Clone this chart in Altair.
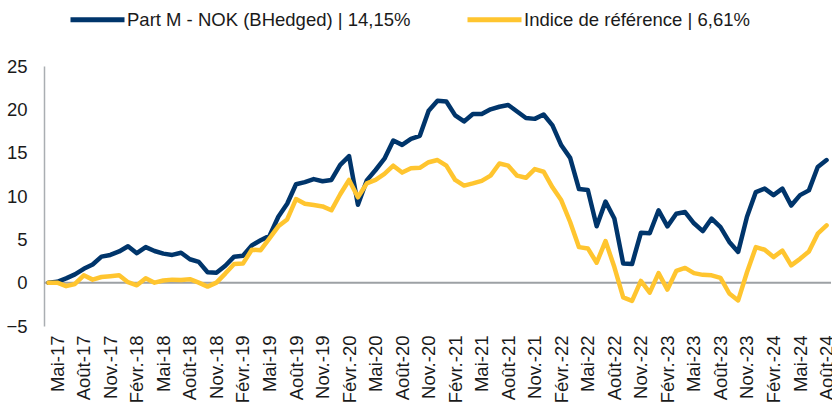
import altair as alt
import pandas as pd

# Monthly index positions: Apr-17 (inception) ... Aug-24
fund_name = "Part M - NOK (BHedged) | 14,15%"
bench_name = "Indice de référence | 6,61%"

fund = [0, 0.1, 0.5, 0.95, 1.6, 2.1, 3.0, 3.2, 3.6, 4.2, 3.4, 4.1, 3.65, 3.35, 3.2,
        3.45, 2.7, 2.4, 1.2, 1.15, 1.95, 3.0, 3.1, 4.3, 4.9, 5.4, 7.6, 9.1, 11.35, 11.6,
        11.95, 11.7, 11.85, 13.6, 14.6, 9.0, 11.8, 13.0, 14.3, 16.4, 15.9, 16.6, 16.95, 19.85, 21.0,
        20.9, 19.3, 18.6, 19.45, 19.45, 20.0, 20.3, 20.5, 19.75, 19.0, 18.9, 19.4, 18.15, 15.85, 14.4,
        10.8, 10.7, 6.5, 9.35, 7.4, 2.2, 2.15, 5.75, 5.7, 8.35, 6.5, 7.95, 8.15, 6.85, 5.95,
        7.4, 6.4, 4.7, 3.55, 7.6, 10.45, 10.85, 10.1, 10.85, 8.9, 10.1, 10.65, 13.35, 14.15]

bench = [0, 0, -0.4, -0.15, 0.85, 0.35, 0.65, 0.75, 0.85, 0.05, -0.3, 0.5, 0.0, 0.25, 0.35,
         0.3, 0.4, 0.0, -0.45, 0.0, 1.05, 2.15, 2.2, 3.8, 3.75, 5.1, 6.5, 7.3, 9.65, 9.1,
         8.95, 8.8, 8.35, 10.2, 11.85, 9.85, 11.45, 11.85, 12.55, 13.5, 12.7, 13.2, 13.25, 13.9, 14.15,
         13.5, 11.85, 11.2, 11.45, 11.75, 12.35, 13.75, 13.5, 12.35, 12.1, 13.1, 12.8, 11.0, 9.5, 7.0,
         4.1, 3.95, 2.3, 4.8, 1.8, -1.7, -2.1, 0.2, -1.15, 1.1, -0.8, 1.35, 1.7, 1.1, 0.9,
         0.85, 0.55, -1.25, -2.05, 1.2, 4.1, 3.8, 2.95, 3.7, 2.0, 2.75, 3.6, 5.65, 6.61]

tick_labels = ["Mai-17", "Août-17", "Nov.-17", "Févr.-18", "Mai-18", "Août-18", "Nov.-18",
               "Févr.-19", "Mai-19", "Août-19", "Nov.-19", "Févr.-20", "Mai-20", "Août-20",
               "Nov.-20", "Févr.-21", "Mai-21", "Août-21", "Nov.-21", "Févr.-22", "Mai-22",
               "Août-22", "Nov.-22", "Févr.-23", "Mai-23", "Août-23", "Nov.-23", "Févr.-24",
               "Mai-24", "Août-24"]
tick_positions = [1 + 3 * k for k in range(len(tick_labels))]

rows = []
for i, v in enumerate(fund):
    rows.append({"idx": i, "value": v, "series": fund_name})
for i, v in enumerate(bench):
    rows.append({"idx": i, "value": v, "series": bench_name})
df = pd.DataFrame(rows)

label_map = "{" + ",".join(f"'{p}':'{l}'" for p, l in zip(tick_positions, tick_labels)) + "}"

FONT = "Liberation Sans"

x = alt.X("idx:Q",
          scale=alt.Scale(domain=[-0.5, 88.5], nice=False, zero=False),
          axis=alt.Axis(values=tick_positions, labelExpr=f"{label_map}[datum.value]",
                        labelAngle=270, labelAlign="right", labelBaseline="middle",
                        labelPadding=9, ticks=False, domain=False, grid=False,
                        labelFontSize=18.5, labelFont=FONT, labelColor="#1a1a1a",
                        labelOverlap=False, title=None))
y = alt.Y("value:Q",
          scale=alt.Scale(domain=[-5, 25], nice=False),
          axis=alt.Axis(values=[-5, 0, 5, 10, 15, 20, 25], ticks=False, grid=False,
                        domain=True, domainColor="#AAAEB2", domainWidth=1.5,
                        labelPadding=17, labelFontSize=18.5, labelFont=FONT,
                        labelColor="#1a1a1a", title=None))
color = alt.Color("series:N",
                  scale=alt.Scale(domain=[fund_name, bench_name], range=["#00356B", "#FFC52F"]),
                  legend=alt.Legend(orient="none", legendX=24, legendY=-76, direction="horizontal",
                                    title=None, symbolType="stroke", symbolSize=2916,
                                    symbolStrokeWidth=5, labelFontSize=18.5, labelFont=FONT,
                                    labelColor="#1a1a1a", labelOffset=0, columnPadding=46,
                                    padding=0, labelLimit=400))

zero = alt.Chart(pd.DataFrame({"z": [0]})).mark_rule(color="#9DA1A5", strokeWidth=2).encode(y="z:Q")

line_fund = alt.Chart(df).transform_filter(alt.datum.series == fund_name).mark_line(
    strokeWidth=4.5, strokeJoin="round", strokeCap="round").encode(x=x, y=y, color=color)
line_bench = alt.Chart(df).transform_filter(alt.datum.series == bench_name).mark_line(
    strokeWidth=4.5, strokeJoin="round", strokeCap="round").encode(x=x, y=y, color=color)

chart = alt.layer(zero, line_fund, line_bench).properties(
    width=787, height=260,
    autosize=alt.AutoSizeParams(type="none"),
    padding={"left": 44, "top": 66, "right": 1, "bottom": 77},
    background="white",
).configure_view(stroke=None)

chart.save("out.html", embed_options={"renderer": "svg", "actions": False})
